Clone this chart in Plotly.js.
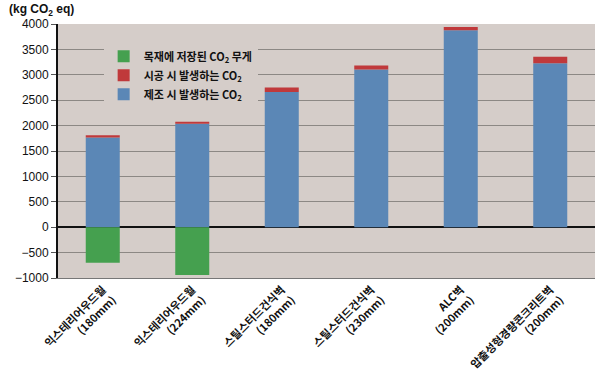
<!DOCTYPE html>
<html><head><meta charset="utf-8">
<script src="https://cdn.plot.ly/plotly-3.0.1.min.js"></script>
<style>html,body{margin:0;padding:0;background:#fff}#c{width:600px;height:378px}</style>
</head><body><div id="c"></div>
<script>
const categories = ["익스테리어우드월<br>(180mm)","익스테리어우드월<br>(224mm)","스틸스터드건식벽<br>(180mm)","스틸스터드건식벽<br>(230mm)","ALC벽<br>(200mm)","압출성형경량콘크리트벽<br>(200mm)"];
const manufacturing = [1765, 2035, 2660, 3105, 3875, 3225];
const construction = [45, 40, 90, 80, 65, 130];
const woodStored = [-700, -940, 0, 0, 0, 0];
const yTicks = [-1000,-500,0,500,1000,1500,2000,2500,3000,3500,4000];

const font = {family: "'Noto Sans CJK KR', 'Liberation Sans', Arial, sans-serif", color: "#111"};
const traces = [
  {type:'bar', x:categories, y:manufacturing, name:'제조 시 발생하는 CO<sub>2</sub>', marker:{color:'#5b87b6'}},
  {type:'bar', x:categories, y:construction, name:'시공 시 발생하는 CO<sub>2</sub>', marker:{color:'#c0393b'}},
  {type:'bar', x:categories, y:woodStored, name:'목재에 저장된 CO<sub>2</sub> 무게', marker:{color:'#45a04f'}}
];
const layout = {
  width:600, height:378,
  margin:{l:58, r:5, t:24, b:100},
  paper_bgcolor:'#fff', plot_bgcolor:'#d5cdc9',
  barmode:'relative', bargap:0.62,
  showlegend:true,
  legend:{x:0.085, y:0.93, xanchor:'left', yanchor:'top', traceorder:'reversed', bgcolor:'#d5cdc9',
    font:{family:font.family, size:11, color:'#111', weight:'bold'}, itemwidth:30, tracegroupgap:0},
  font:font,
  xaxis:{tickangle:-45, tickfont:{family:font.family, size:11, color:'#111', weight:'bold'}, showline:true, linecolor:'#777', linewidth:1, mirror:false, ticks:''},
  yaxis:{range:[-1000,4000], tickvals:yTicks, tickfont:{family:"'Liberation Sans', Arial, sans-serif", size:12, color:'#111'},
    showgrid:true, gridcolor:'#8c8884', gridwidth:1, zeroline:true, zerolinecolor:'#111', zerolinewidth:2,
    showline:true, linecolor:'#111', linewidth:2, ticks:'outside', ticklen:5, tickcolor:'#555'},
  annotations:[{text:'(kg CO<sub>2</sub> eq)', xref:'paper', yref:'paper', x:-0.095, y:1.0, yshift:14, xanchor:'left', yanchor:'middle', showarrow:false,
    font:{family:"'Liberation Sans', Arial, sans-serif", size:12, color:'#111', weight:'bold'}}]
};
Plotly.newPlot('c', traces, layout, {displayModeBar:false, staticPlot:true});
</script></body></html>
